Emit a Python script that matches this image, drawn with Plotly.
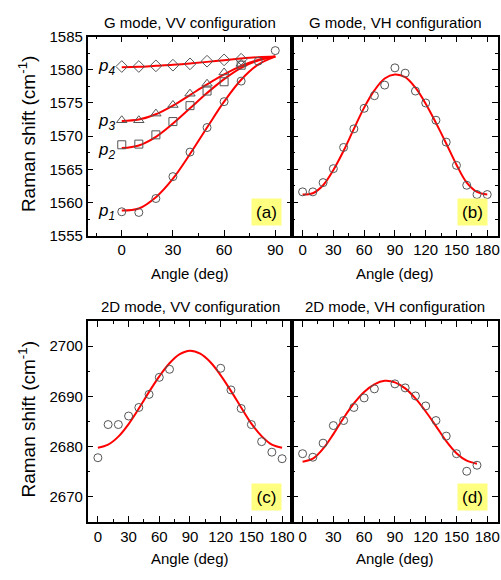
import plotly.graph_objects as go

# ---------------- data ----------------
ang_a = [0, 10, 20, 30, 40, 50, 60, 70, 80, 90]
p1_pts = [1558.6, 1558.5, 1560.6, 1563.9, 1567.6, 1571.3, 1575.2, 1578.3, 1581.3, 1582.9]
ang_a8 = [0, 10, 20, 30, 40, 50, 60, 70]
p2_pts = [1568.7, 1568.8, 1570.2, 1572.2, 1574.6, 1576.8, 1578.2, 1580.7]
p3_pts = [1572.4, 1572.4, 1573.4, 1574.7, 1576.4, 1577.9, 1579.6, 1580.9]
p4_pts = [1580.5, 1580.5, 1580.6, 1580.7, 1580.9, 1581.3, 1581.5, 1581.6]

p1_fit = [1558.8, 1559.1, 1560.8, 1563.6, 1567.3, 1571.3, 1575.2, 1578.5, 1580.8, 1582.0]
p2_fit = [1568.2, 1568.6, 1569.9, 1571.9, 1574.2, 1576.5, 1578.6, 1580.3, 1581.4, 1582.0]
p3_fit = [1572.3, 1572.5, 1573.3, 1574.6, 1576.2, 1577.8, 1579.3, 1580.6, 1581.5, 1582.0]
p4_fit = [1580.4, 1580.45, 1580.6, 1580.75, 1580.95, 1581.2, 1581.45, 1581.7, 1581.9, 1582.0]

ang_full = [0, 10, 20, 30, 40, 50, 60, 70, 80, 90, 100, 110, 120, 130, 140, 150, 160, 170, 180]
gvh_pts = [1561.6, 1561.6, 1563.0, 1565.1, 1568.3, 1571.1, 1574.2, 1576.1, 1577.7, 1580.3,
           1579.5, 1576.8, 1575.0, 1572.4, 1569.1, 1565.6, 1562.6, 1561.2, 1561.2]
gvh_fit = [1561.2, 1561.4, 1562.6, 1564.9, 1567.8, 1571.1, 1574.3, 1576.9, 1578.7, 1579.3,
           1578.9, 1577.3, 1574.9, 1572.0, 1568.9, 1565.7, 1563.0, 1561.6, 1561.2]

ang_c = [0, 10, 20, 30, 40, 50, 60, 70, 120, 130, 140, 150, 160, 170, 180]
dvv_pts = [2677.8, 2684.4, 2684.4, 2686.1, 2687.8, 2690.4, 2693.8, 2695.4,
           2695.6, 2691.3, 2687.6, 2684.4, 2681.0, 2678.9, 2677.6]
dvv_fit = [2679.8, 2680.4, 2682.0, 2684.5, 2687.6, 2690.9, 2694.0, 2696.6, 2698.4, 2699.1,
           2698.5, 2696.8, 2694.2, 2691.1, 2687.8, 2684.6, 2682.1, 2680.4, 2679.8]

ang_d = [0, 10, 20, 30, 40, 50, 60, 70, 90, 100, 110, 120, 130, 140, 150, 160, 170]
dvh_pts = [2678.6, 2677.9, 2680.7, 2684.2, 2685.2, 2687.8, 2689.7, 2691.5,
           2692.5, 2691.7, 2690.1, 2688.1, 2685.2, 2682.1, 2678.6, 2675.1, 2676.3]
ang_dfit = [0, 10, 20, 30, 40, 50, 60, 70, 80, 90, 100, 110, 120, 130, 140, 150, 160, 170]
dvh_fit = [2677.0, 2677.6, 2679.6, 2682.5, 2685.7, 2688.6, 2690.9, 2692.4, 2693.1, 2692.8,
           2691.6, 2689.6, 2687.0, 2684.1, 2681.1, 2678.7, 2677.2, 2676.6]

titles = ["G mode, VV configuration", "G mode, VH configuration",
          "2D mode, VV configuration", "2D mode, VH configuration"]
panel_tags = ["(a)", "(b)", "(c)", "(d)"]
p_labels = ["p<sub>1</sub>", "p<sub>2</sub>", "p<sub>3</sub>", "p<sub>4</sub>"]
p_label_y = [1558.6, 1567.8, 1572.1, 1580.4]

# ---------------- layout helpers ----------------
W, H = 501, 580
FONT = "Liberation Sans, Arial, sans-serif"
RED = "#ff0000"
MK = "#555555"

def fx(px):
    return px / W

def fy(py):
    return 1 - py / H

fig = go.Figure()

def add_fit(x, y, ax):
    fig.add_trace(go.Scatter(x=x, y=y, mode="lines", line=dict(color=RED, width=2, shape="spline"),
                             xaxis="x" + ax, yaxis="y" + ax, showlegend=False, hoverinfo="skip"))

def add_pts(x, y, ax, sym="circle-open", size=8):
    fig.add_trace(go.Scatter(x=x, y=y, mode="markers",
                             marker=dict(symbol=sym, size=size, color=MK, line=dict(width=1, color=MK)),
                             xaxis="x" + ax, yaxis="y" + ax, showlegend=False))

# panel a ('' axis)
for fit in (p1_fit, p2_fit, p3_fit, p4_fit):
    add_fit(ang_a, fit, "")
add_pts(ang_a, p1_pts, "", "circle-open")
add_pts(ang_a8, p2_pts, "", "square-open", 8)
add_pts(ang_a8, p3_pts, "", "triangle-up-open", 9)
add_pts(ang_a8, p4_pts, "", "diamond-open", 9)
# panel b
add_fit(ang_full, gvh_fit, "2")
add_pts(ang_full, gvh_pts, "2")
# panel c
add_fit(ang_full, dvv_fit, "3")
add_pts(ang_c, dvv_pts, "3")
# panel d
add_fit(ang_dfit, dvh_fit, "4")
add_pts(ang_d, dvh_pts, "4")

# panel boxes in px
LX, MX, RX = 88, 293.5, 499.5
TOP1, BOT1 = 28.5, 233.5
TOP2, BOT2 = 321.5, 528.5

def xaxis(dom, rng, anchor, dtick=30):
    return dict(domain=dom, range=rng, anchor=anchor, showgrid=False, zeroline=False,
                showline=True, linecolor="black", linewidth=1.5, mirror="ticks",
                ticks="inside", ticklen=6, tickwidth=1.2, tickcolor="black",
                tick0=0, dtick=dtick,
                minor=dict(ticks="inside", ticklen=3, tickwidth=1.2, tickcolor="black", dtick=15, tick0=0),
                tickfont=dict(family=FONT, size=15, color="black"))

def yaxis(dom, rng, anchor, dtick, mdtick, tick0, labels=True):
    return dict(domain=dom, range=rng, anchor=anchor, showgrid=False, zeroline=False,
                showline=True, linecolor="black", linewidth=1.5, mirror="ticks",
                ticks="inside", ticklen=6, tickwidth=1.2, tickcolor="black",
                tick0=tick0, dtick=dtick, showticklabels=labels,
                minor=dict(ticks="inside", ticklen=3, tickwidth=1.2, tickcolor="black", dtick=mdtick, tick0=tick0),
                tickfont=dict(family=FONT, size=15, color="black"))

dA = [fx(LX), fx(MX)]
dB = [fx(MX), fx(RX)]
d1 = [fy(BOT1), fy(TOP1)]
d2 = [fy(BOT2), fy(TOP2)]

fig.update_layout(
    width=W, height=H, margin=dict(l=0, r=0, t=0, b=0),
    plot_bgcolor="white", paper_bgcolor="white",
    xaxis=xaxis(dA, [-20, 100], "y"),
    yaxis=yaxis(d1, [1555, 1585], "x", 5, 2.5, 1555),
    xaxis2=xaxis(dB, [-10, 190], "y2"),
    yaxis2=yaxis(d1, [1555, 1585], "x2", 5, 2.5, 1555, labels=False),
    xaxis3=xaxis(dA, [-10, 190], "y3"),
    yaxis3=yaxis(d2, [2665, 2705], "x3", 10, 5, 2670),
    xaxis4=xaxis(dB, [-10, 190], "y4"),
    yaxis4=yaxis(d2, [2665, 2705], "x4", 10, 5, 2670, labels=False),
)

ann = []
# titles
for t, cx, cy in zip(titles, [191, 397, 191, 397], [14, 14, 306, 306]):
    ann.append(dict(text=t, x=fx(cx), y=fy(cy), xref="paper", yref="paper", showarrow=False,
                    xanchor="center", yanchor="middle", font=dict(family=FONT, size=15, color="black")))
# x titles
for cx, cy in [(191, 272), (397, 272), (191, 566), (397, 566)]:
    ann.append(dict(text="Angle (deg)", x=fx(cx), y=fy(cy), xref="paper", yref="paper", showarrow=False,
                    xanchor="center", yanchor="middle", font=dict(family=FONT, size=15, color="black")))
# y titles
for cy in [129, 423]:
    ann.append(dict(text="Raman shift (cm<sup>-1</sup>)", x=fx(27), y=fy(cy), xref="paper", yref="paper",
                    showarrow=False, textangle=-90, xanchor="center", yanchor="middle",
                    font=dict(family=FONT, size=19, color="black")))
# panel tags
for tag, cx, cy in zip(panel_tags, [268, 474, 268, 474], [209, 209, 503, 503]):
    ann.append(dict(text=tag, x=fx(cx), y=fy(cy), xref="paper", yref="paper", showarrow=False,
                    xanchor="center", yanchor="middle", bgcolor="#ffff80", width=27, height=24,
                    font=dict(family=FONT, size=17, color="black")))
# p labels
for lab, yv in zip(p_labels, p_label_y):
    ann.append(dict(text="<i>" + lab + "</i>", x=-9, y=yv, xref="x", yref="y", showarrow=False,
                    xanchor="center", yanchor="middle", font=dict(family=FONT, size=17, color="black")))
fig.update_layout(annotations=ann)

fig.write_html(
    "out.html",
    config={"displayModeBar": False},
    post_script="document.body.style.margin='0';document.body.style.padding='0';"
                "document.documentElement.style.overflow='hidden';document.body.style.overflow='hidden';",
)
